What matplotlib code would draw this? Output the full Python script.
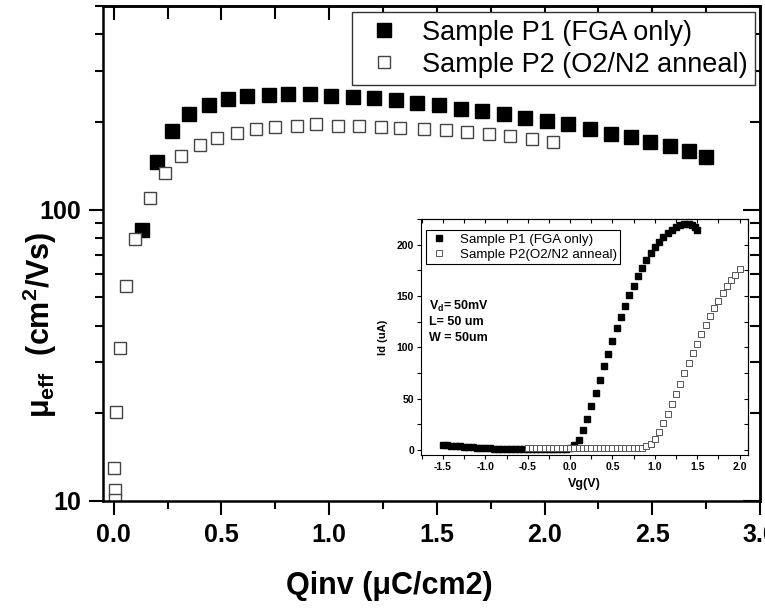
import matplotlib
matplotlib.use("Agg")
import matplotlib.pyplot as plt
from matplotlib.ticker import MultipleLocator, FixedLocator, LogLocator, NullFormatter, FuncFormatter

plt.rcParams['font.family'] = ['Liberation Sans', 'DejaVu Sans']
plt.rcParams['mathtext.fontset'] = 'custom'
plt.rcParams['mathtext.rm'] = 'Liberation Sans'
plt.rcParams['mathtext.bf'] = 'Liberation Sans:bold'
plt.rcParams['mathtext.it'] = 'Liberation Sans:italic'

# main chart: effective mobility vs inversion charge
q_p1 = [0.13, 0.20, 0.27, 0.35, 0.44, 0.53, 0.62, 0.72, 0.81, 0.91, 1.01, 1.11, 1.21, 1.31,
        1.41, 1.51, 1.61, 1.71, 1.81, 1.91, 2.01, 2.11, 2.21, 2.31, 2.40, 2.49, 2.58, 2.67, 2.75]
mu_p1 = [85, 146, 186, 213, 229, 240, 246, 248, 250, 250, 246, 244, 242, 238,
         232, 229, 222, 218, 213, 207, 202, 196, 189, 182, 178, 171, 166, 159, 152]
q_p2 = [0.002, 0.005, 0.005, 0.009, 0.028, 0.056, 0.10, 0.17, 0.24, 0.31, 0.40, 0.48, 0.57, 0.66,
        0.75, 0.85, 0.94, 1.04, 1.14, 1.24, 1.33, 1.44, 1.54, 1.64, 1.74, 1.84, 1.94, 2.04]
mu_p2 = [13.0, 10.9, 10.1, 20.2, 33.4, 54.9, 79, 110, 134, 153, 167, 176, 183, 189,
         192, 194, 196, 194, 194, 192, 191, 189, 188, 185, 182, 179, 175, 171]
labels_main = ['Sample P1 (FGA only)', 'Sample P2 (O2/N2 anneal)']

# inset: Id-Vg
vg_p1 = [-1.5, -1.45, -1.4, -1.35, -1.3, -1.25, -1.2, -1.15, -1.1, -1.05, -1.0, -0.95, -0.9, -0.85,
         -0.8, -0.75, -0.7, -0.65, -0.6, -0.55, -0.5, -0.45, -0.4, -0.35, -0.3, -0.25, -0.2, -0.15,
         -0.1, -0.05, 0.0, 0.05, 0.1, 0.15, 0.2, 0.25, 0.3, 0.35, 0.4, 0.45, 0.5, 0.55, 0.6, 0.65,
         0.7, 0.75, 0.8, 0.85, 0.9, 0.95, 1.0, 1.05, 1.1, 1.15, 1.2, 1.25, 1.3, 1.35, 1.4, 1.44,
         1.47, 1.5]
id_p1 = [4.9, 4.5, 4.1, 3.7, 3.3, 3.0, 2.7, 2.4, 2.1, 1.8, 1.6, 1.4, 1.2, 1.0,
         0.9, 0.8, 0.7, 0.6, 0.5, 0.5, 0.4, 0.4, 0.4, 0.4, 0.4, 0.4, 0.5, 0.5,
         0.6, 0.9, 1.8, 4.6, 9.8, 18.9, 29.9, 42.3, 55.3, 68.3, 81.3, 93.7, 106, 118.4, 129.8, 140.5,
         150.9, 160, 169, 177.2, 184.7, 191.5, 197.7, 202.9, 207.5, 211.4, 214.6, 217.2, 219.2, 220.5, 220.2, 218.8,
         217.2, 214.3]
vg_p2 = [-0.5, -0.45, -0.4, -0.35, -0.3, -0.25, -0.2, -0.15, -0.1, -0.05, 0.0, 0.05, 0.1, 0.15,
         0.2, 0.25, 0.3, 0.35, 0.4, 0.45, 0.5, 0.55, 0.6, 0.65, 0.7, 0.75, 0.8, 0.85, 0.9, 0.95,
         1.0, 1.05, 1.1, 1.15, 1.2, 1.25, 1.3, 1.35, 1.4, 1.45, 1.5, 1.55, 1.6, 1.65, 1.7, 1.75,
         1.8, 1.85, 1.9, 1.95, 2.0]
id_p2 = [1.6, 1.6, 1.6, 1.6, 1.6, 1.6, 1.6, 1.6, 1.6, 1.7, 1.7, 1.8, 1.8, 1.8,
         1.8, 1.8, 1.8, 1.8, 1.8, 1.8, 1.8, 1.9, 1.9, 1.9, 1.9, 2.0, 2.0, 2.3, 3.3, 5.9,
         10.7, 17.6, 25.7, 35.0, 44.9, 54.6, 64.4, 74.5, 84.2, 94.0, 103.4, 112.5, 121.6, 130.0, 137.9, 145.4,
         152.5, 159.4, 165.2, 170.7, 176.3]
labels_inset = ['Sample P1 (FGA only)', 'Sample P2(O2/N2 anneal)']

fig = plt.figure(figsize=(7.65, 6.08), dpi=100)
ax = fig.add_axes([103/765, 1-501/608, 657/765, 495/608])

ax.plot(q_p1, mu_p1, 's', ms=9.5, color='black', label=labels_main[0])
ax.plot(q_p2, mu_p2, 's', ms=9, mfc='white', mec='#444444', mew=1.0, label=labels_main[1])

ax.set_yscale('log')
ax.set_xlim(-0.05, 3.0)
ax.set_ylim(10, 500)
ax.xaxis.set_major_locator(MultipleLocator(0.5))
ax.xaxis.set_minor_locator(MultipleLocator(0.25))
ax.xaxis.set_major_formatter(FuncFormatter(lambda v, p: f'{v:.1f}'))
ax.yaxis.set_major_locator(FixedLocator([10, 100]))
ax.yaxis.set_major_formatter(FuncFormatter(lambda v, p: f'{v:.0f}'))
ax.yaxis.set_minor_locator(LogLocator(subs=range(2, 10)))
ax.yaxis.set_minor_formatter(NullFormatter())
ax.tick_params(which='major', direction='out', length=10, width=1.5, labelsize=18, pad=6)
ax.tick_params(which='minor', direction='out', length=6, width=1.5)
for t in ax.get_xticklabels() + ax.get_yticklabels():
    t.set_fontweight('bold')
for s in ax.spines.values():
    s.set_linewidth(1.8)

# top and right ticks point inwards
top = ax.secondary_xaxis('top')
top.xaxis.set_major_locator(MultipleLocator(0.5))
top.xaxis.set_minor_locator(MultipleLocator(0.25))
top.xaxis.set_major_formatter(NullFormatter())
top.tick_params(which='both', direction='in', length=10, width=1.5)
top.tick_params(which='minor', length=9)
right = ax.secondary_yaxis('right')
right.yaxis.set_major_locator(FixedLocator([10, 100]))
right.yaxis.set_minor_locator(LogLocator(subs=range(2, 10)))
right.yaxis.set_major_formatter(NullFormatter())
right.yaxis.set_minor_formatter(NullFormatter())
right.tick_params(which='major', direction='in', length=12, width=1.5)
right.tick_params(which='minor', direction='in', length=7, width=1.5)
for s in list(top.spines.values()) + list(right.spines.values()):
    s.set_linewidth(1.8)

leg = ax.legend(loc='upper right', bbox_to_anchor=(755/765, 1-12/608), bbox_transform=fig.transFigure,
                fontsize=19.5, numpoints=1, frameon=True, fancybox=False, framealpha=1,
                edgecolor='#333333', borderaxespad=0, borderpad=0.28, labelspacing=0.22,
                handlelength=1.8, handletextpad=0.5)
leg.get_frame().set_linewidth(1.0)

fig.text(40/765, 1-325/608, r'$\mathbf{\mu_{eff}}$  $\mathbf{(cm^2/Vs)}$', rotation=90,
         ha='center', va='center', fontsize=22, fontweight='bold')
fig.text(389/765, 1-586/608, 'Qinv (μC/cm2)', ha='center', va='center', fontsize=22, fontweight='bold')

# inset
ins = fig.add_axes([421/765, 1-455/608, 327/765, 236/608], zorder=5)
ins.plot(vg_p1, id_p1, 's', ms=4, color='black', label=labels_inset[0])
ins.plot(vg_p2, id_p2, 's', ms=4, mfc='white', mec='#555555', mew=0.7, label=labels_inset[1])
ins.set_xlim(-1.76, 2.1)
ins.set_ylim(-5, 225)
ins.xaxis.set_major_locator(MultipleLocator(0.5))
ins.xaxis.set_minor_locator(MultipleLocator(0.25))
ins.xaxis.set_major_formatter(FuncFormatter(lambda v, p: f'{v:.1f}'))
ins.yaxis.set_major_locator(MultipleLocator(50))
ins.yaxis.set_minor_locator(MultipleLocator(25))
ins.tick_params(which='both', direction='out', length=3, width=0.8, labelsize=7.5, pad=2)
for t in ins.get_xticklabels() + ins.get_yticklabels():
    t.set_fontweight('bold')
for s in ins.spines.values():
    s.set_linewidth(0.8)
itop = ins.secondary_xaxis('top')
itop.xaxis.set_major_locator(MultipleLocator(0.25))
itop.xaxis.set_major_formatter(NullFormatter())
itop.tick_params(direction='in', length=3, width=0.8)
iright = ins.secondary_yaxis('right')
iright.yaxis.set_major_locator(MultipleLocator(25))
iright.yaxis.set_major_formatter(NullFormatter())
iright.tick_params(direction='in', length=3, width=0.8)

ins.set_xlabel('Vg(V)', fontsize=9, fontweight='bold', labelpad=4)
ins.set_ylabel('Id (uA)', fontsize=8, fontweight='bold', labelpad=6)

ileg = ins.legend(loc='upper left', bbox_to_anchor=(426/765, 1-230/608), bbox_transform=fig.transFigure,
                  fontsize=9.6, numpoints=1, frameon=True, fancybox=False, framealpha=1,
                  edgecolor='black', borderaxespad=0, borderpad=0.25, labelspacing=0.2,
                  handlelength=1.5, handletextpad=0.8)
ileg.get_frame().set_linewidth(0.8)

ins.text(0.024, 0.631, r'$\mathbf{V_d}$= 50mV', transform=ins.transAxes, fontsize=9,
         fontweight='bold', va='center')
ins.text(0.024, 0.564, 'L= 50 um', transform=ins.transAxes, fontsize=9, fontweight='bold', va='center')
ins.text(0.024, 0.496, 'W = 50um', transform=ins.transAxes, fontsize=9, fontweight='bold', va='center')

fig.savefig('out.png', dpi=100)
